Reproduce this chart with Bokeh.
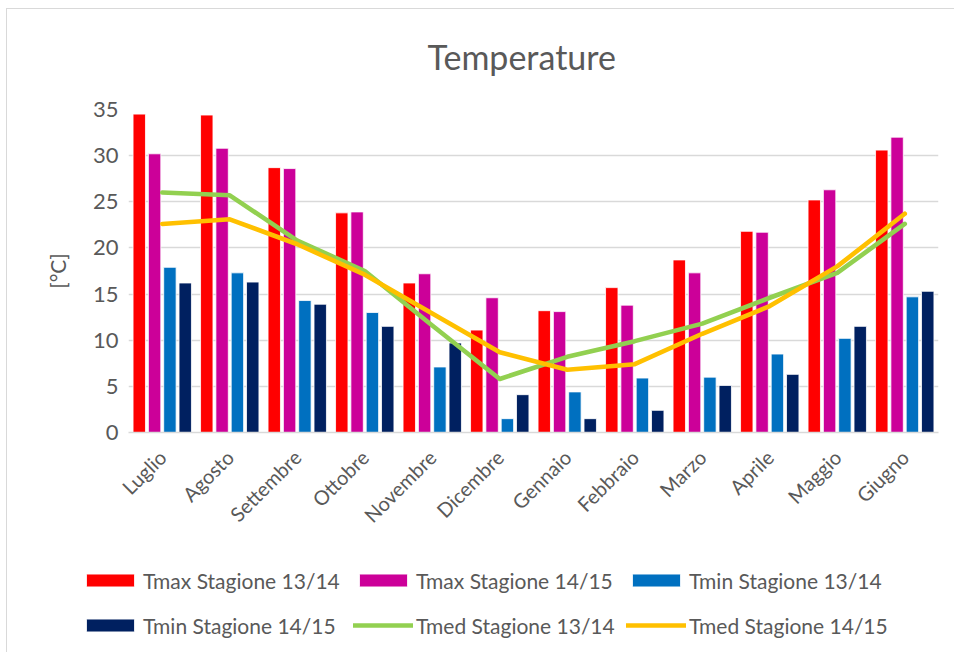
import math

from bokeh.embed import file_html
from bokeh.layouts import column
from bokeh.models import (ColumnDataSource, FixedTicker, InlineStyleSheet,
                          Legend, LegendItem, Range1d)
from bokeh.plotting import figure
from bokeh.resources import INLINE
from bokeh.transform import dodge

# Monthly temperatures, seasons 2013/14 and 2014/15 (°C)
months = ["Luglio", "Agosto", "Settembre", "Ottobre", "Novembre", "Dicembre",
          "Gennaio", "Febbraio", "Marzo", "Aprile", "Maggio", "Giugno"]
tmax_1314 = [34.5, 34.4, 28.7, 23.8, 16.2, 11.1, 13.2, 15.7, 18.7, 21.8, 25.2, 30.6]
tmax_1415 = [30.2, 30.8, 28.6, 23.9, 17.2, 14.6, 13.1, 13.8, 17.3, 21.7, 26.3, 32.0]
tmin_1314 = [17.9, 17.3, 14.3, 13.0, 7.1, 1.5, 4.4, 5.9, 6.0, 8.5, 10.2, 14.7]
tmin_1415 = [16.2, 16.3, 13.9, 11.5, 9.7, 4.1, 1.5, 2.4, 5.1, 6.3, 11.5, 15.3]
tmed_1314 = [26.0, 25.7, 20.8, 17.5, 11.6, 5.8, 8.2, 9.9, 11.8, 14.6, 17.3, 22.6]
tmed_1415 = [22.6, 23.1, 20.4, 17.1, 12.9, 8.7, 6.8, 7.4, 10.7, 13.7, 18.0, 23.7]
y_ticks = [0, 5, 10, 15, 20, 25, 30, 35]

FONT = "Lato"
TEXT = "#595959"
GRID = "#d9d9d9"

bars = [
    ("tmax_1314", "#FF0000", "Tmax Stagione 13/14"),
    ("tmax_1415", "#CC0099", "Tmax Stagione 14/15"),
    ("tmin_1314", "#0070C0", "Tmin Stagione 13/14"),
    ("tmin_1415", "#002060", "Tmin Stagione 14/15"),
]
lines = [
    ("tmed_1314", "#92D050", "Tmed Stagione 13/14"),
    ("tmed_1415", "#FFC000", "Tmed Stagione 14/15"),
]

src = ColumnDataSource(dict(
    x=list(range(len(months))),
    tmax_1314=tmax_1314, tmax_1415=tmax_1415,
    tmin_1314=tmin_1314, tmin_1415=tmin_1415,
    tmed_1314=tmed_1314, tmed_1415=tmed_1415,
))

bar_w = 0.184
step = 0.227


def draw_series(fig):
    """Draws the four bar series and the two mean lines; returns them by label."""
    out = {}
    for i, (col, color, label) in enumerate(bars):
        out[label] = fig.vbar(x=dodge("x", (i - 1.5) * step), top=col, width=bar_w,
                              source=src, fill_color=color, line_color="white",
                              line_width=0.8)
    for col, color, label in lines:
        out[label] = fig.line(x="x", y=col, source=src, line_color=color,
                              line_width=4.6, line_join="round", line_cap="round")
    return out


# ---- main chart ----
p = figure(width=954, height=545, output_backend="svg", toolbar_location=None,
           x_range=Range1d(-0.5, len(months) - 0.5), y_range=Range1d(0, 35),
           min_border_left=128, min_border_right=16,
           min_border_top=107, min_border_bottom=113,
           background_fill_color="white", border_fill_color="white")
p.outline_line_color = None

p.title.text = "Temperature"
p.title.align = "left"
p.title.offset = 299
p.title.standoff = 66
p.title.text_font = FONT
p.title.text_font_size = "34px"
p.title.text_font_style = "normal"
p.title.text_color = TEXT

p.xgrid.grid_line_color = None
p.ygrid.grid_line_color = GRID
p.ygrid.grid_line_width = 1.3
p.yaxis.ticker = FixedTicker(ticks=y_ticks)
p.yaxis.axis_line_color = None
p.yaxis.major_tick_line_color = None
p.yaxis.minor_tick_line_color = None
p.yaxis.major_label_text_font = FONT
p.yaxis.major_label_text_font_size = "22px"
p.yaxis.major_label_text_color = TEXT
p.yaxis.major_label_standoff = 4
p.yaxis.axis_label = "[°C]"
p.yaxis.axis_label_text_font = FONT
p.yaxis.axis_label_text_font_size = "21px"
p.yaxis.axis_label_text_font_style = "normal"
p.yaxis.axis_label_text_color = TEXT
p.yaxis.axis_label_standoff = 20

p.xaxis.ticker = FixedTicker(ticks=list(range(len(months))))
p.xaxis.major_label_overrides = {i: m for i, m in enumerate(months)}
p.xaxis.major_label_orientation = math.pi / 4
p.xaxis.axis_line_color = GRID
p.xaxis.axis_line_width = 1.5
p.xaxis.major_tick_line_color = None
p.xaxis.minor_tick_line_color = None
p.xaxis.major_label_text_font = FONT
p.xaxis.major_label_text_font_size = "20px"
p.xaxis.major_label_text_color = TEXT
p.xaxis.major_label_standoff = 15

draw_series(p)

# ---- legend strip (series drawn off-view, only their keys are shown) ----
leg = figure(width=954, height=107, output_backend="svg", toolbar_location=None,
             x_range=Range1d(100, 101), y_range=Range1d(100, 101),
             min_border_left=0, min_border_right=0, min_border_top=0,
             min_border_bottom=0, frame_align=False,
             background_fill_color="white", border_fill_color="white")
leg.outline_line_color = None
leg.axis.visible = False
leg.grid.visible = False
keys = draw_series(leg)

order = ["Tmax Stagione 13/14", "Tmax Stagione 14/15", "Tmin Stagione 13/14",
         "Tmin Stagione 14/15", "Tmed Stagione 13/14", "Tmed Stagione 14/15"]
legend = Legend(items=[LegendItem(label=lbl, renderers=[keys[lbl]]) for lbl in order],
                location=(80, 7), orientation="horizontal", ncols=3,
                glyph_width=60, glyph_height=16, label_height=40, label_width=205,
                label_standoff=3, spacing=5, padding=0, margin=0,
                label_text_font=FONT, label_text_font_size="21px",
                label_text_color=TEXT, border_line_color=None,
                background_fill_alpha=0)
leg.add_layout(legend, "center")

page = column(p, leg, spacing=0)
page.stylesheets = [InlineStyleSheet(css="""
:host { position: relative; }
:host::after {
  content: ""; position: absolute; left: 6px; top: 8px; right: -20px; bottom: -20px;
  border: 1.5px solid #d9d9d9; pointer-events: none; z-index: 5;
}
""")]

open("out.html", "w").write(file_html(page, INLINE))
